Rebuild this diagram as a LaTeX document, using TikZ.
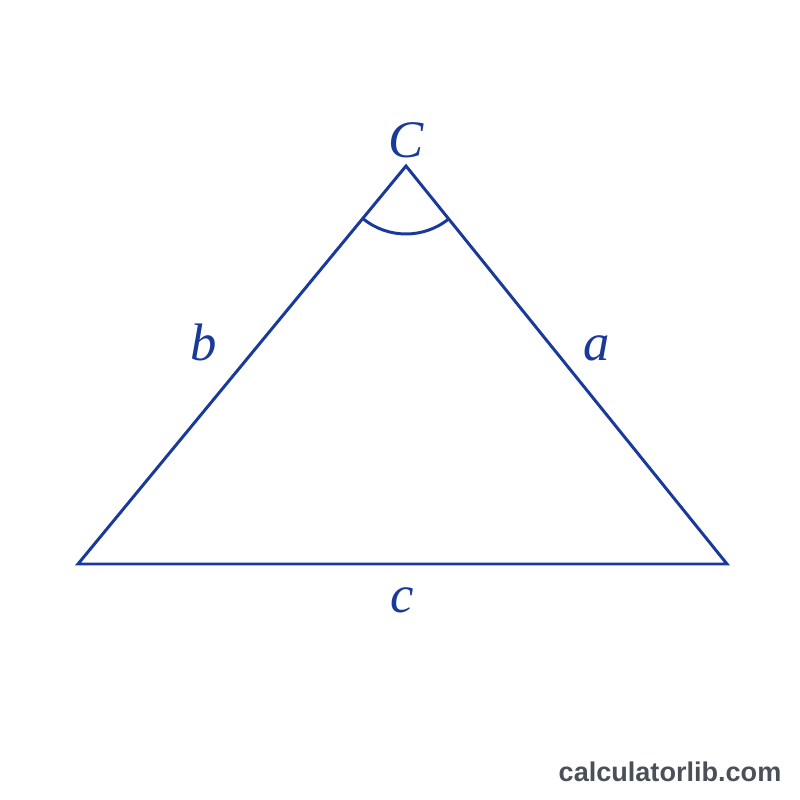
\documentclass[tikz,border=0pt]{standalone}
\usepackage{fontspec}
\setmainfont{Liberation Serif}
\newfontfamily\marksans{Liberation Sans}
\usetikzlibrary{positioning,calc}

\definecolor{triblue}{HTML}{1A3A9A}
\definecolor{markgray}{HTML}{4A5058}

\begin{document}
\begin{tikzpicture}[side/.style={triblue, line width=0.85pt, line join=miter},
                    lbl/.style={triblue, font=\fontsize{15}{17}\selectfont\itshape, inner sep=0pt}]

\useasboundingbox (0,0) rectangle (8,8);

\coordinate (A) at (0.78, 2.36);
\coordinate (B) at (7.27, 2.36);
\coordinate (C) at (4.06, 6.34);

\draw [side] (A) -- (B) -- (C) -- cycle;

% angle at C
\draw [side] ($(C)+(230.5:0.68)$) arc (230.5:308.9:0.68);

\node [lbl] (labC) at (4.06, 6.60) {C};
\node [lbl] (labb) at (2.04, 4.58) {b};
\node [lbl] (laba) at (5.97, 4.52) {a};
\node [lbl] (labc) at (4.02, 2.00) {c};

% -------- watermark -----------
\node [markgray, font=\marksans\bfseries\fontsize{7.7}{9}\selectfont, inner sep=0pt] (mark) at (6.70, 0.28) {calculatorlib.com};
\end{tikzpicture}
\end{document}
